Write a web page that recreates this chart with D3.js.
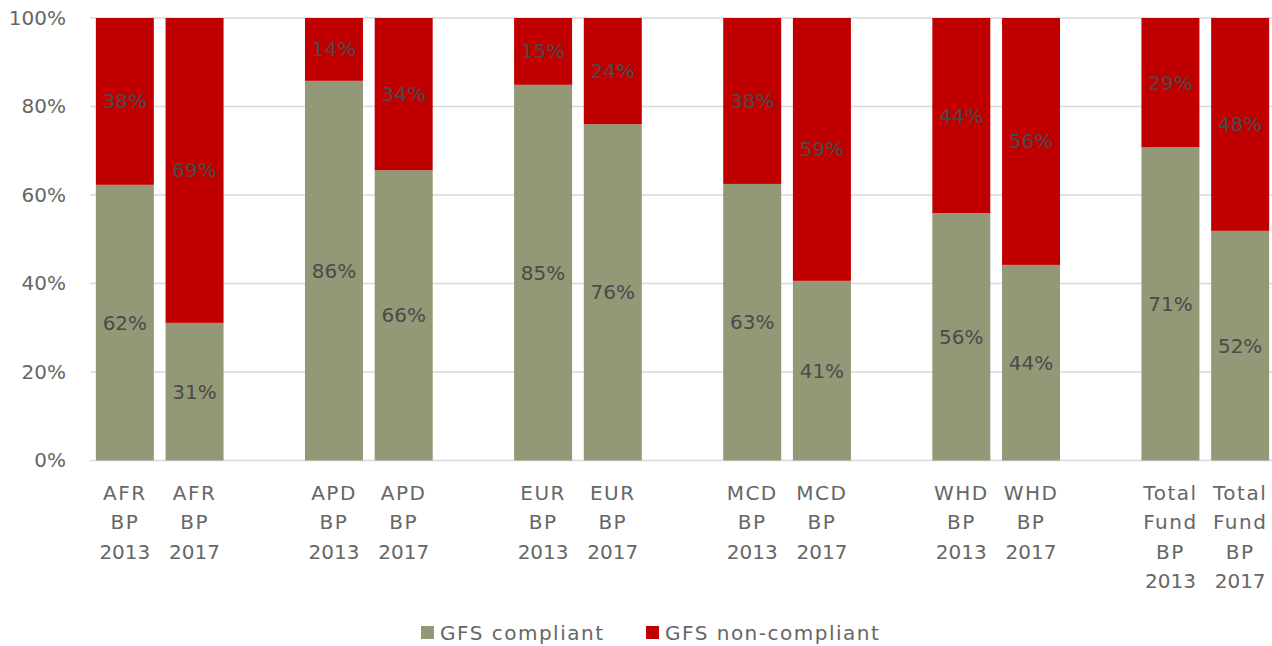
<!DOCTYPE html>
<html>
<head>
<meta charset="utf-8">
<script src="https://cdn.jsdelivr.net/npm/d3@7"></script>
<style>
  body { margin: 0; background: #fff; }
  text { font-family: "DejaVu Sans", sans-serif; }
</style>
</head>
<body>
<div id="chart"></div>
<script>
// Stacked 100% bars, GFS compliance by department

// Categories (blank slots separate the groups)
var categories = [
  "AFR BP 2013", "AFR BP 2017", "gap1",
  "APD BP 2013", "APD BP 2017", "gap2",
  "EUR BP 2013", "EUR BP 2017", "gap3",
  "MCD BP 2013", "MCD BP 2017", "gap4",
  "WHD BP 2013", "WHD BP 2017", "gap5",
  "Total Fund BP 2013", "Total Fund BP 2017"
];

var barNames = [
  "AFR BP 2013", "AFR BP 2017",
  "APD BP 2013", "APD BP 2017",
  "EUR BP 2013", "EUR BP 2017",
  "MCD BP 2013", "MCD BP 2017",
  "WHD BP 2013", "WHD BP 2017",
  "Total Fund BP 2013", "Total Fund BP 2017"
];

// Series values (percent)
var compliant =    [62.3, 31.1, 85.8, 65.6, 84.9, 76.0, 62.5, 40.6, 55.9, 44.2, 70.8, 51.9];
var nonCompliant = [37.7, 68.9, 14.2, 34.4, 15.1, 24.0, 37.5, 59.4, 44.1, 55.8, 29.2, 48.1];

var seriesNames = ["GFS compliant", "GFS non-compliant"];
var seriesColors = ["#939977", "#c00000"];

var yTicks = [0, 20, 40, 60, 80, 100];

// Canvas
var width = 1272;
var height = 646;
var plotLeft = 90;
var plotRight = 1275;
var plotTop = 18;
var plotBottom = 460.5;

var svg = d3.select("#chart")
  .append("svg")
  .attr("width", width)
  .attr("height", height);

// Scales
var xScale = d3.scaleBand()
  .domain(categories)
  .range([plotLeft, plotRight])
  .paddingInner(0.168)
  .paddingOuter(0.084);

var yScale = d3.scaleLinear()
  .domain([0, 100])
  .range([plotBottom, plotTop]);

// Gridlines
svg.append("g")
  .selectAll("line")
  .data(yTicks)
  .enter()
  .append("line")
  .attr("x1", plotLeft)
  .attr("x2", width)
  .attr("y1", function(d) { return yScale(d); })
  .attr("y2", function(d) { return yScale(d); })
  .attr("stroke", "#d9d9d9")
  .attr("stroke-width", 1.5);

// Y axis labels
var yAxis = d3.axisLeft(yScale)
  .tickValues(yTicks)
  .tickFormat(function(d) { return d + "%"; })
  .tickSize(0)
  .tickPadding(24);

var yG = svg.append("g")
  .attr("transform", "translate(" + plotLeft + ",0)")
  .call(yAxis);
yG.select(".domain").remove();
yG.selectAll("text")
  .attr("fill", "#666666")
  .style("font-family", "'DejaVu Sans', sans-serif")
  .style("font-size", "20px");

// Stack the data
var rows = barNames.map(function(name, i) {
  return { name: name, compliant: compliant[i], nonCompliant: nonCompliant[i] };
});
var stack = d3.stack().keys(["compliant", "nonCompliant"]);
var layers = stack(rows);

var layerG = svg.selectAll(".layer")
  .data(layers)
  .enter()
  .append("g")
  .attr("class", "layer")
  .attr("fill", function(d, i) { return seriesColors[i]; });

layerG.selectAll("rect")
  .data(function(d) { return d; })
  .enter()
  .append("rect")
  .attr("x", function(d) { return xScale(d.data.name); })
  .attr("width", xScale.bandwidth())
  .attr("y", function(d) { return yScale(d[1]); })
  .attr("height", function(d) { return yScale(d[0]) - yScale(d[1]); });

// Data labels
layerG.selectAll(".dlabel")
  .data(function(d) { return d; })
  .enter()
  .append("text")
  .attr("class", "dlabel")
  .attr("x", function(d) { return xScale(d.data.name) + xScale.bandwidth() / 2; })
  .attr("y", function(d) { return yScale((d[0] + d[1]) / 2); })
  .attr("dy", "0.35em")
  .attr("text-anchor", "middle")
  .attr("fill", "#4a4a4a")
  .style("font-size", "20px")
  .text(function(d) { return Math.round(d[1] - d[0]) + "%"; });

// Category labels (wrapped)
function splitLabel(name) {
  if (name.indexOf("Total Fund") === 0) {
    return ["Total", "Fund", "BP", name.slice(-4)];
  }
  return name.split(" ");
}

var catG = svg.append("g");
barNames.forEach(function(name) {
  var t = catG.append("text")
    .attr("text-anchor", "middle")
    .attr("fill", "#666666")
    .style("font-size", "20px");
  splitLabel(name).forEach(function(line, j) {
    t.append("tspan")
      .attr("x", xScale(name) + xScale.bandwidth() / 2)
      .attr("y", 500 + j * 29.3)
      .style("letter-spacing", /^\d+$/.test(line) ? "0px" : "1.5px")
      .text(line);
  });
});

// Legend
var legendX = [421, 646];
var legend = svg.append("g");
seriesNames.forEach(function(name, i) {
  legend.append("rect")
    .attr("x", legendX[i])
    .attr("y", 626)
    .attr("width", 13)
    .attr("height", 13)
    .attr("fill", seriesColors[i]);
  legend.append("text")
    .attr("x", legendX[i] + 19)
    .attr("y", 632.5)
    .attr("dy", "0.35em")
    .attr("fill", "#666666")
    .style("font-size", "20px")
    .style("letter-spacing", "1.5px")
    .text(name);
});
</script>
</body>
</html>
